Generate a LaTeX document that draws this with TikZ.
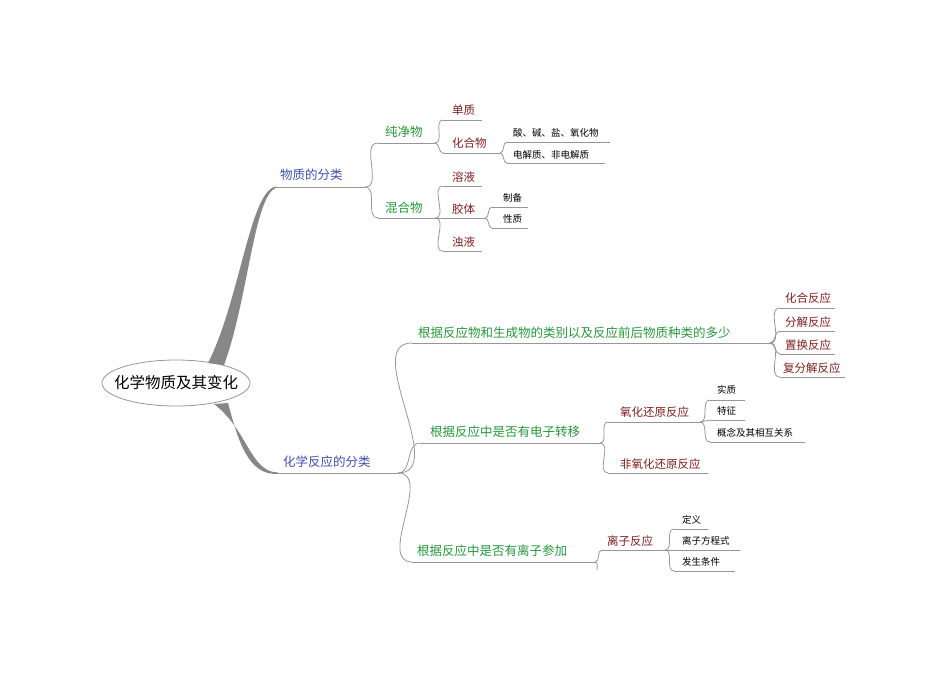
\documentclass[tikz,border=0pt]{standalone}
\usepackage{fontspec}
\setmainfont{Noto Sans CJK SC}
\usetikzlibrary{shapes.geometric}
\definecolor{cblue}{RGB}{60,80,170}
\definecolor{cgreen}{RGB}{40,150,60}
\definecolor{cred}{RGB}{125,30,30}
\definecolor{cline}{RGB}{150,150,150}
\tikzset{
 lblue/.style={text=cblue,font=\fontsize{12.5}{12.5}\selectfont},
 lgreen/.style={text=cgreen,font=\fontsize{12.5}{12.5}\selectfont},
 lred/.style={text=cred,font=\fontsize{11.5}{11.5}\selectfont},
 lleaf/.style={text=black,font=\fontsize{9.5}{9.5}\selectfont},
 ul/.style={draw=cline,line width=0.8pt},
 conn/.style={draw=cline,line width=0.8pt},
}
% \topic{name}{textleft}{ty}{left}{right}{uly}{style}{text}
\newcommand{\topic}[8]{%
 \node[#7,inner sep=0pt,anchor=west] (#1) at (#2,#3) {#8};
 \coordinate (#1-L) at (#4,#6); \coordinate (#1-R) at (#5,#6);
 \draw[ul] (#1-L) -- (#1-R);}
\newcommand{\link}[2]{\draw[conn] (#1-R) to[out=0,in=180] (#2-L);}
\begin{document}
\begin{tikzpicture}[x=1pt,y=-1pt]
\useasboundingbox (0,0) rectangle (950,672);
\node[inner sep=0pt,font=\fontsize{15.5}{15.5}\selectfont] (root) at (176,383) {化学物质及其变化};
\draw[cline,line width=0.8pt] (root.center) ellipse [x radius=74pt,y radius=23pt];
\fill[cline!90!black] (208,363) .. controls (240,300) and (250,190) .. (276,186.5) -- (276,187.8) .. controls (254,196) and (248,300) .. (224,365) -- cycle;
\fill[cline!90!black] (214,404) .. controls (248,430) and (250,472) .. (278,472.5) -- (278,473.8) .. controls (248,476) and (238,440) .. (228,403) -- cycle;
\topic{wz}{280}{175}{275}{365}{187}{lblue}{物质的分类}
\topic{hx}{283}{462}{278}{398}{473}{lblue}{化学反应的分类}
\topic{cj}{385}{132}{378}{435}{143}{lgreen}{纯净物}
\topic{hh}{385}{208}{378}{435}{218}{lgreen}{混合物}
\link{wz}{cj}\link{wz}{hh}
\topic{dz}{452}{110}{443}{482}{120}{lred}{单质}
\topic{hhw}{452}{143}{443}{500}{153}{lred}{化合物}
\link{cj}{dz}\link{cj}{hhw}
\topic{sj}{513}{133}{507}{610}{142}{lleaf}{酸、碱、盐、氧化物}
\topic{dj}{513}{155}{507}{605}{163}{lleaf}{电解质、非电解质}
\link{hhw}{sj}\link{hhw}{dj}
\topic{ry}{452}{177}{443}{482}{186}{lred}{溶液}
\topic{jt}{452}{209}{443}{485}{218}{lred}{胶体}
\topic{zy}{452}{242}{443}{482}{251}{lred}{浊液}
\link{hh}{ry}\link{hh}{jt}\link{hh}{zy}
\topic{zb}{503}{198}{492}{528}{207}{lleaf}{制备}
\topic{xz}{503}{219}{492}{528}{228}{lleaf}{性质}
\link{jt}{zb}\link{jt}{xz}
\topic{ga}{418}{333}{412}{770}{343}{lgreen}{根据反应物和生成物的类别以及反应前后物质种类的多少}
\topic{gb}{430}{432}{420}{600}{443}{lgreen}{根据反应中是否有电子转移}
\topic{gc}{417}{551}{412}{595}{562}{lgreen}{根据反应中是否有离子参加}
\link{hx}{ga}\link{hx}{gb}\link{hx}{gc}
\topic{r1}{785}{298}{780}{835}{308}{lred}{化合反应}
\topic{r2}{785}{322}{780}{835}{331}{lred}{分解反应}
\topic{r3}{785}{345}{780}{835}{354}{lred}{置换反应}
\topic{r4}{783}{368}{780}{845}{377}{lred}{复分解反应}
\link{ga}{r1}\link{ga}{r2}\link{ga}{r3}\link{ga}{r4}
\topic{yh}{620}{412}{608}{700}{422}{lred}{氧化还原反应}
\topic{fy}{620}{464}{608}{708}{473}{lred}{非氧化还原反应}
\link{gb}{yh}\link{gb}{fy}
\topic{sz}{717}{390}{710}{745}{400}{lleaf}{实质}
\topic{tz}{717}{411}{710}{745}{420}{lleaf}{特征}
\topic{gn}{717}{433}{710}{805}{442}{lleaf}{概念及其相互关系}
\link{yh}{sz}\link{yh}{tz}\link{yh}{gn}
\topic{lz}{607}{541}{602}{665}{550}{lred}{离子反应}
\link{gc}{lz}
\coordinate (stub) at (597,570);
\draw[conn] (gc-R) to[out=0,in=90] (stub);
\topic{dy}{682}{520}{674}{708}{529}{lleaf}{定义}
\topic{fc}{682}{541}{674}{740}{550}{lleaf}{离子方程式}
\topic{tj}{682}{562}{674}{735}{571}{lleaf}{发生条件}
\link{lz}{dy}\link{lz}{fc}\link{lz}{tj}
\end{tikzpicture}
\end{document}
